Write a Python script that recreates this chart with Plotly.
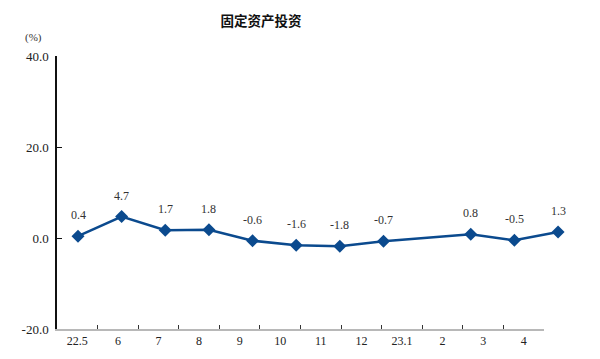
import plotly.graph_objects as go

categories = ["22.5", "6", "7", "8", "9", "10", "11", "12", "23.1", "2", "3", "4"]
values = [0.4, 4.7, 1.7, 1.8, -0.6, -1.6, -1.8, -0.7, None, 0.8, -0.5, 1.3]
y_ticks = [-20, 0, 20, 40]
y_tick_labels = ["-20.0", "0.0", "20.0", "40.0"]

line_color = "#0b4a8e"
serif = "Liberation Serif, DejaVu Serif, serif"

L, R, T, B = 57, 30, 56, 30
pw = 600 - L - R
ph = 359 - T - B

fig = go.Figure()
# invisible trace that establishes the category x axis
fig.add_trace(go.Scatter(
    x=categories, y=[0 if v is None else v for v in values], xaxis="x", yaxis="y",
    mode="markers", marker=dict(opacity=0), hoverinfo="skip", showlegend=False,
))
fig.add_trace(go.Scatter(
    x=list(range(len(categories))), y=values, xaxis="x2", yaxis="y",
    mode="lines+markers", connectgaps=True,
    line=dict(color=line_color, width=2.5),
    marker=dict(symbol="diamond", size=10, color=line_color),
    hoverinfo="skip", showlegend=False, cliponaxis=False,
))

for i, v in enumerate(values):
    if v is None:
        continue
    fig.add_annotation(x=i, y=v, xref="x2", yref="y", text=f"{v:.1f}",
                       showarrow=False, yshift=21,
                       font=dict(family=serif, size=12, color="#333333"))

fig.add_annotation(x=(33.5 - L) / pw, y=1 + (T - 37.5) / ph, xref="paper", yref="paper",
                   xanchor="center", yanchor="middle",
                   text="(%)", showarrow=False,
                   font=dict(family=serif, size=11, color="#333333"))

fig.update_layout(
    width=600, height=359,
    margin=dict(l=L, r=R, t=T, b=B, autoexpand=False),
    paper_bgcolor="white", plot_bgcolor="rgba(0,0,0,0)",
    title=dict(text="<b>固定资产投资</b>", x=261 / 600, xref="container", xanchor="center",
               y=1 - 21 / 359, yref="container", yanchor="middle",
               font=dict(family="Noto Sans CJK SC", size=13.5, color="#111111")),
    xaxis=dict(type="category", categoryorder="array", categoryarray=categories,
               range=[-0.5, 11.5], domain=[0, (544 - L) / pw],
               showline=True, linecolor="#b8b8b8", linewidth=1.5,
               ticks="inside", ticklen=4, tickcolor="#333333", tickson="boundaries",
               showgrid=False, zeroline=False, anchor="y", automargin=False,
               tickfont=dict(family=serif, size=12, color="#222222")),
    xaxis2=dict(domain=[0, 1], anchor="y",
                range=[(L - 78) / 43.64, (600 - R - 78) / 43.64],
                visible=False, showgrid=False, zeroline=False),
    yaxis=dict(range=[-20, 40], tickvals=y_ticks, ticktext=y_tick_labels,
               showline=True, linecolor="#111111", linewidth=1.5,
               ticks="inside", ticklen=5, tickcolor="#111111",
               showgrid=False, zeroline=False, anchor="x", automargin=False,
               ticklabelstandoff=4,
               tickfont=dict(family=serif, size=13, color="#222222")),
)

fig.write_html("out.html", config={"displayModeBar": False},
               post_script="document.body.style.margin='0';")
